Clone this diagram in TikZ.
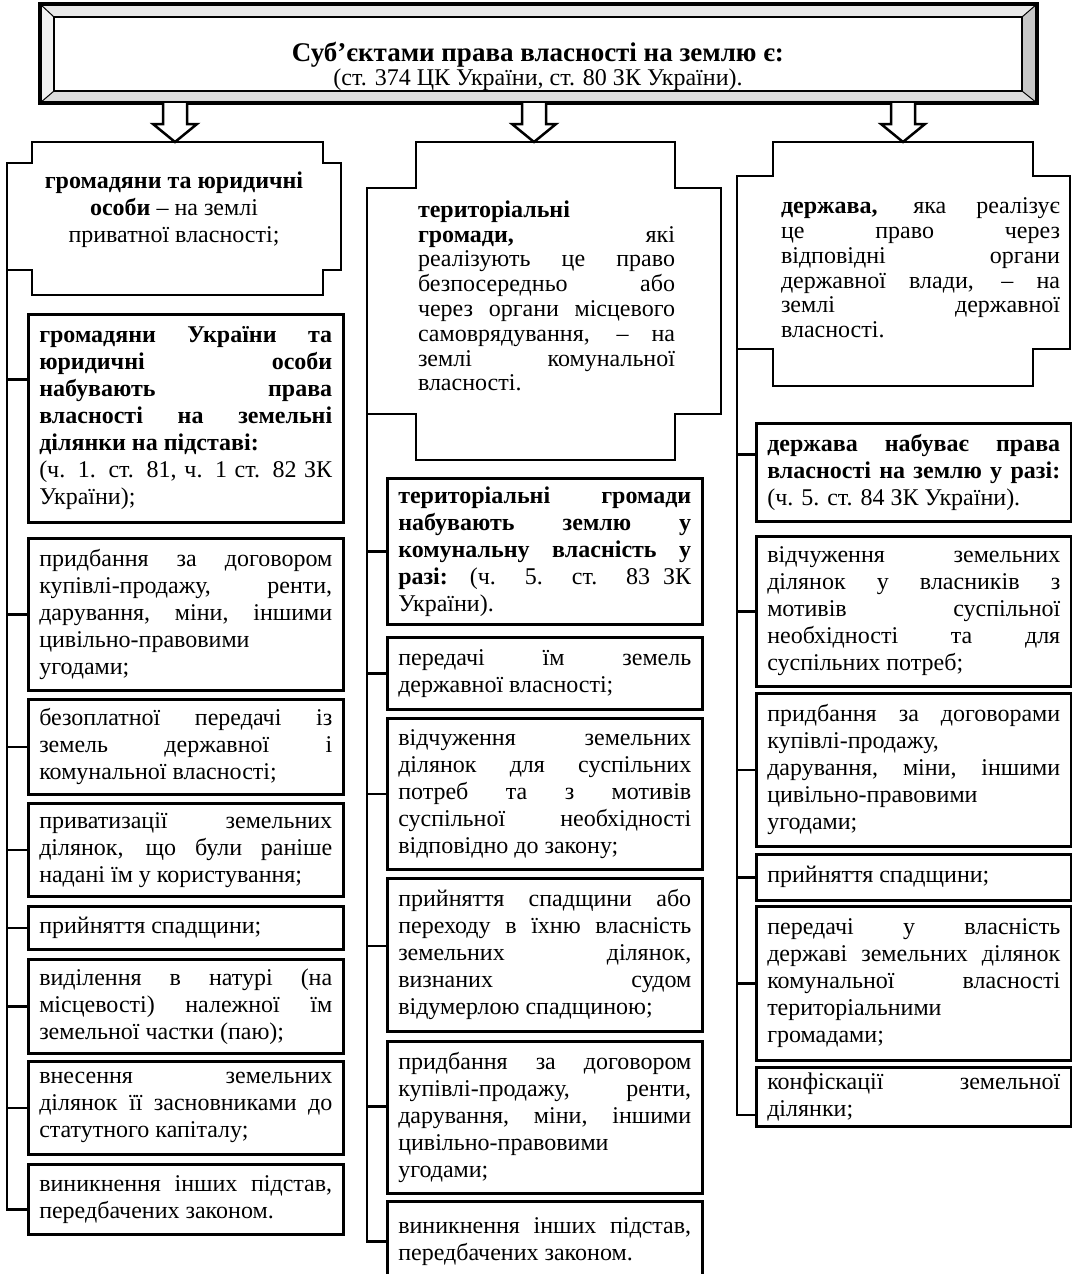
\documentclass[tikz,border=0pt]{standalone}
\usepackage{fontspec}
\setmainfont{Liberation Serif}
\hyphenpenalty=10000
\exhyphenpenalty=10000
\tolerance=9999
\hbadness=10000
\newcommand{\testo}{\fontsize{24}{27}\selectfont}
\newcommand{\testocapo}{\fontsize{24}{24.8}\selectfont}

\begin{document}
\begin{tikzpicture}[x=1pt,y=-1pt,
    linea/.style={line width=2.5pt},
    riquadro/.style={draw, line width=2.5pt, text width=293pt, inner xsep=11pt,
      inner ysep=0pt, align=justify, anchor=north west, font=\testo},
    freccia/.style={line width=2.5pt, fill=white, line join=miter},
    capo/.style={line width=2.5pt, line join=miter}]
    \useasboundingbox (0,0) rectangle (1071,1274);

    % riquadro principale in rilievo
    \fill[gray!18] (40,4) -- (1037,4) -- (1022,17) -- (54,17) -- cycle;
    \fill[gray!45] (1037,4) -- (1037,103) -- (1022,91) -- (1022,17) -- cycle;
    \fill[gray!28] (40,103) -- (1037,103) -- (1022,91) -- (54,91) -- cycle;
    \fill[gray!10] (40,4) -- (40,103) -- (54,91) -- (54,17) -- cycle;
    \draw[line width=1pt] (40,4) -- (54,17) (1037,4) -- (1022,17)
        (40,103) -- (54,91) (1037,103) -- (1022,91);
    \draw[line width=3.5pt] (40,4) rectangle (1037,103);
    \draw[line width=2.5pt] (54,17) rectangle (1022,91);
    \node[anchor=base, inner sep=0pt, font=\fontsize{27}{28}\selectfont\bfseries] (titolo)
        at (538,61) {Суб’єктами права власності на землю є:};
    \node[anchor=base, inner sep=0pt, font=\fontsize{24}{26}\selectfont] (sottotitolo)
        at (538,85) {(ст. 374 ЦК України, ст. 80 ЗК України).};

    % frecce vuote
    \foreach \x in {175,534,903}
        \draw[freccia] (\x-12,103) -- (\x-12,124) -- (\x-22,124) -- (\x,142)
            -- (\x+22,124) -- (\x+12,124) -- (\x+12,103);

    % riquadri a croce
    \draw[capo] (32,142) -- (323,142) -- (323,163) -- (341,163) -- (341,270)
        -- (323,270) -- (323,295) -- (32,295) -- (32,270) -- (7,270)
        -- (7,163) -- (32,163) -- cycle;
    \draw[capo] (416,142) -- (675,142) -- (675,188) -- (721,188) -- (721,414)
        -- (675,414) -- (675,460) -- (416,460) -- (416,414) -- (367,414)
        -- (367,188) -- (416,188) -- cycle;
    \draw[capo] (773,142) -- (1033,142) -- (1033,176) -- (1070,176) -- (1070,349)
        -- (1033,349) -- (1033,386) -- (773,386) -- (773,349) -- (737,349)
        -- (737,176) -- (773,176) -- cycle;

    \node[align=center, inner sep=0pt, font=\testo] (capo1) at (174,210)
        {\textbf{громадяни та юридичні}\\ \textbf{особи} – на землі\\ приватної власності;};
    \node[align=justify, text width=257pt, inner sep=0pt, font=\testocapo] (capo2) at (546.5,296)
        {\textbf{територіальні}\newline \textbf{громади,} які \linebreak
         реалізують це право \linebreak безпосередньо або \linebreak
         через органи місцевого \linebreak самоврядування, – на \linebreak
         землі комунальної \linebreak власності.};
    \node[align=justify, text width=279pt, inner sep=0pt, font=\testocapo] (capo3) at (920.5,268)
        {\textbf{держава,} яка реалізує \linebreak це право через \linebreak
         відповідні органи \linebreak державної влади, – на \linebreak
         землі державної \linebreak власності.};

    % colonna 1
    \node[riquadro, minimum height=208pt] (b11) at (27,313)
        {\textbf{громадяни України та \linebreak юридичні особи \linebreak набувають права
         \linebreak власності на земельні \linebreak ділянки на підставі:}\newline
         (ч. 1. ст. 81, ч. 1 ст. 82 ЗК \linebreak України);};
    \node[riquadro, minimum height=152pt] (b12) at (27,537)
        {придбання за договором \linebreak купівлі-продажу, ренти, \linebreak
         дарування, міни, іншими \linebreak цивільно-правовими\newline угодами;};
    \node[riquadro, minimum height=95pt] (b13) at (27,698)
        {безоплатної передачі із \linebreak земель державної і \linebreak
         комунальної власності;};
    \node[riquadro, minimum height=93pt] (b14) at (27,802)
        {приватизації земельних \linebreak ділянок, що були раніше \linebreak
         надані їм у користування;};
    \node[riquadro, minimum height=43pt] (b15) at (27,905) {прийняття спадщини;};
    \node[riquadro, minimum height=94pt] (b16) at (27,958)
        {виділення в натурі (на \linebreak місцевості) належної їм \linebreak
         земельної частки (паю);};
    \node[riquadro, minimum height=93pt] (b17) at (27,1060)
        {внесення земельних \linebreak ділянок її засновниками до \linebreak
         статутного капіталу;};
    \node[riquadro, minimum height=70pt] (b18) at (27,1163)
        {виникнення інших підстав, \linebreak передбачених законом.};

    % colonna 2
    \node[riquadro, minimum height=146pt] (b21) at (386,477)
        {\textbf{територіальні громади \linebreak набувають землю у \linebreak
         комунальну власність у \linebreak разі:} (ч. 5. ст. 83 ЗК \linebreak України).};
    \node[riquadro, minimum height=72pt] (b22) at (386,636)
        {передачі їм земель \linebreak державної власності;};
    \node[riquadro, minimum height=151pt] (b23) at (386,717)
        {відчуження земельних \linebreak ділянок для суспільних \linebreak
         потреб та з мотивів \linebreak суспільної необхідності \linebreak
         відповідно до закону;};
    \node[riquadro, minimum height=153pt] (b24) at (386,877)
        {прийняття спадщини або \linebreak переходу в їхню власність \linebreak
         земельних ділянок, \linebreak визнаних судом \linebreak
         відумерлою спадщиною;};
    \node[riquadro, minimum height=152pt] (b25) at (386,1040)
        {придбання за договором \linebreak купівлі-продажу, ренти, \linebreak
         дарування, міни, іншими \linebreak цивільно-правовими\newline угодами;};
    \node[riquadro, minimum height=80pt] (b26) at (386,1200)
        {виникнення інших підстав, \linebreak передбачених законом.};

    % colonna 3
    \node[riquadro, minimum height=98pt] (b31) at (755,422)
        {\textbf{держава набуває права \linebreak власності на землю у разі:}
         \linebreak (ч. 5. ст. 84 ЗК України).};
    \node[riquadro, minimum height=150pt] (b32) at (755,535)
        {відчуження земельних \linebreak ділянок у власників з \linebreak
         мотивів суспільної \linebreak необхідності та для \linebreak
         суспільних потреб;};
    \node[riquadro, minimum height=153pt] (b33) at (755,692)
        {придбання за договорами \linebreak купівлі-продажу,\newline
         дарування, міни, іншими \linebreak цивільно-правовими\newline угодами;};
    \node[riquadro, minimum height=46pt] (b34) at (755,853) {прийняття спадщини;};
    \node[riquadro, minimum height=154pt] (b35) at (755,905)
        {передачі у власність \linebreak державі земельних ділянок \linebreak
         комунальної власності \linebreak територіальними\newline громадами;};
    \node[riquadro, minimum height=59pt] (b36) at (755,1066)
        {конфіскації земельної \linebreak ділянки;};

    % linee di collegamento
    \coordinate (t1) at (7,270);
    \coordinate (t2) at (367,414);
    \coordinate (t3) at (737,349);
    \coordinate (a11) at ([yshift=39pt]b11.west);
    \coordinate (a18) at ([yshift=-10pt]b18.west);
    \coordinate (a24) at ([yshift=9pt]b24.west);
    \coordinate (a25) at ([yshift=11pt]b25.west);
    \coordinate (a31) at ([yshift=18pt]b31.west);
    \coordinate (a36) at ([yshift=-18pt]b36.west);

    \draw[linea] (t1) |- (a18);
    \foreach \b in {a11,b12.west,b13.west,b14.west,b15.west,b16.west,b17.west}
        \draw[linea] (t1 |- \b) -- (\b);
    \draw[linea] (t2) |- (b26.west);
    \foreach \b in {b21.west,b22.west,b23.west,a24,a25}
        \draw[linea] (t2 |- \b) -- (\b);
    \draw[linea] (t3) |- (a36);
    \foreach \b in {a31,b32.west,b33.west,b34.west,b35.west}
        \draw[linea] (t3 |- \b) -- (\b);
\end{tikzpicture}
\end{document}
